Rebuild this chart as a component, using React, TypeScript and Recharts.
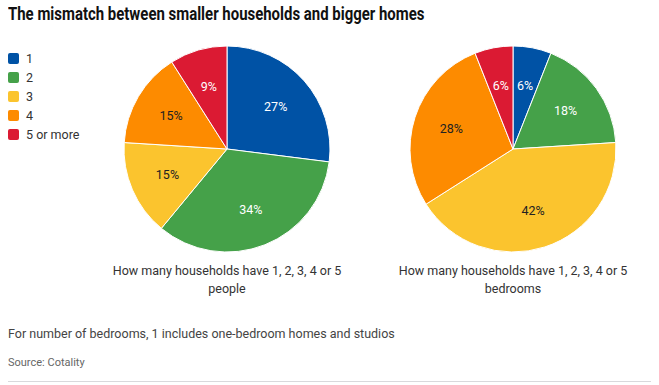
import React from 'react'
import { PieChart, Pie, Cell } from 'recharts'

const categories = ['1', '2', '3', '4', '5 or more']
const colors = ['#0052a5', '#45a149', '#fbc42e', '#fd8b00', '#db1a33']
const labelColors = ['#fff', '#fff', '#222', '#222', '#fff']
const peopleShare = [27, 34, 15, 15, 9]
const bedroomShare = [6, 18, 42, 28, 6]

const peopleData = categories.map((name, i) => ({ name, value: peopleShare[i] }))
const bedroomData = categories.map((name, i) => ({ name, value: bedroomShare[i] }))

const font = 'Roboto, "Noto Sans", sans-serif'
const RADIAN = Math.PI / 180

const renderLabel = (props: any) => {
  const { cx, cy, midAngle, outerRadius, value, index } = props
  const r = outerRadius * 0.63
  const x = cx + r * Math.cos(-midAngle * RADIAN)
  const y = cy + r * Math.sin(-midAngle * RADIAN)
  return (
    <text x={x} y={y} fill={labelColors[index]} textAnchor="middle" dominantBaseline="central" fontSize={12.5} fontFamily={font}>
      {value}%
    </text>
  )
}

export default function App() {
  return (
    <div style={{ position: 'absolute', left: 0, top: 0, width: 659, height: 385, background: '#fff', fontFamily: font }}>
      <div style={{ position: 'absolute', left: 8, top: 3, fontSize: 18, fontWeight: 700, color: '#111', whiteSpace: 'nowrap',
        transform: 'scaleX(0.83)', transformOrigin: 'left center' }}>
        The mismatch between smaller households and bigger homes
      </div>
      <div style={{ position: 'absolute', left: 8, top: 49 }}>
        {categories.map((c, i) => (
          <div key={c} style={{ display: 'flex', alignItems: 'center', height: 19 }}>
            <span style={{ width: 11, height: 11, background: colors[i], borderRadius: 2, display: 'inline-block', marginRight: 7 }} />
            <span style={{ fontSize: 12.5, color: '#333' }}>{c}</span>
          </div>
        ))}
      </div>
      <PieChart width={659} height={385} margin={{ top: 0, right: 0, bottom: 0, left: 0 }} style={{ position: 'absolute', left: 0, top: 0 }}>
        <Pie data={peopleData} dataKey="value" nameKey="name" cx={227} cy={149} outerRadius={103} startAngle={90} endAngle={-270}
          stroke="#fff" strokeWidth={1} label={renderLabel} labelLine={false} isAnimationActive={false}>
          {peopleData.map((d, i) => <Cell key={d.name} fill={colors[i]} />)}
        </Pie>
        <Pie data={bedroomData} dataKey="value" nameKey="name" cx={513} cy={149} outerRadius={103} startAngle={90} endAngle={-270}
          stroke="#fff" strokeWidth={1} label={renderLabel} labelLine={false} isAnimationActive={false}>
          {bedroomData.map((d, i) => <Cell key={d.name} fill={colors[i]} />)}
        </Pie>
      </PieChart>
      <div style={{ position: 'absolute', left: 107, top: 262, width: 240, textAlign: 'center', fontSize: 12.5, color: '#333', lineHeight: '18px' }}>
        How many households have 1, 2, 3, 4 or 5 people
      </div>
      <div style={{ position: 'absolute', left: 393, top: 262, width: 240, textAlign: 'center', fontSize: 12.5, color: '#333', lineHeight: '18px' }}>
        How many households have 1, 2, 3, 4 or 5 bedrooms
      </div>
      <div style={{ position: 'absolute', left: 8, top: 326, fontSize: 12.5, color: '#444', whiteSpace: 'nowrap' }}>
        For number of bedrooms, 1 includes one-bedroom homes and studios
      </div>
      <div style={{ position: 'absolute', left: 8, top: 356, fontSize: 11, color: '#666' }}>
        Source: Cotality
      </div>
      <div style={{ position: 'absolute', left: 8, right: 8, top: 381, height: 1, background: '#d9d9dc' }} />
    </div>
  )
}
